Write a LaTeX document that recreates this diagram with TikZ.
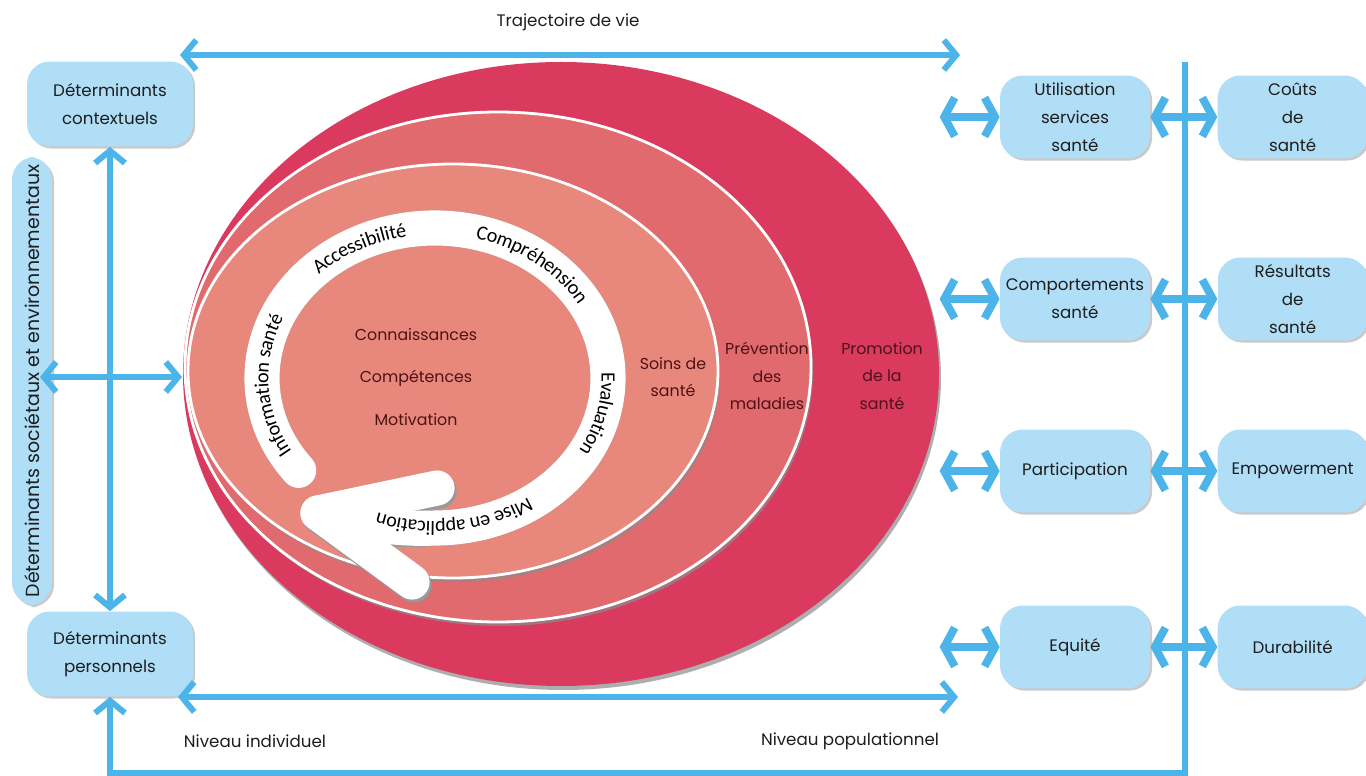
\documentclass[tikz,border=0pt]{standalone}
\usepackage{fontspec}
\setmainfont{Poppins}
\newfontfamily\ringfont{Carlito}
\usepackage{tikz}
\usetikzlibrary{arrows.meta, positioning, shadows, decorations.text}

\definecolor{arrowblue}{RGB}{77,180,234}
\definecolor{boxblue}{RGB}{176,222,247}
\definecolor{promored}{RGB}{218,58,94}
\definecolor{prevred}{RGB}{224,106,110}
\definecolor{soinsred}{RGB}{232,135,123}
\definecolor{darkred}{RGB}{78,18,22}
\definecolor{textgray}{RGB}{30,30,30}
\newcommand\ringsize{\ringfont\fontsize{11.5}{13}\selectfont\color{black}}

\begin{document}
\begin{tikzpicture}[x=0.02cm, y=-0.02cm, >={Straight Barb[length=7pt,width=17pt]},
  font=\fontsize{9.5}{16}\selectfont, text=textgray,
  flow/.style={draw=arrowblue, line width=3.4pt},
  link/.style={draw=arrowblue, line width=4.5pt, >={Straight Barb[length=6pt,width=22pt]}},
  detbox/.style={fill=boxblue, rounded corners=13pt, align=center, minimum width=3cm,
    minimum height=1.66cm, drop shadow={shadow xshift=1.2pt, shadow yshift=-1.2pt, fill=black!35, opacity=.6}},
  ringline/.style={line width=20pt, line cap=round, line join=round},
  ringtext/.style={decorate, decoration={text along path, text align=center, raise=-3.6pt,
    text={|\ringsize|#1}}},
  redtext/.style={text=darkred, align=center, font=\fontsize{9}{15.5}\selectfont},
  layer/.style={draw=white, line width=1.6pt},
  layershadow/.style={fill=black!45, opacity=.7}]
\useasboundingbox (0,0) rectangle (1366,776);

\fill[layershadow] (563,378) ellipse[x radius=378, y radius=312];
\fill[promored] (561,374) ellipse[x radius=378, y radius=312];
\fill[layershadow] (500,371) ellipse[x radius=313, y radius=255];
\filldraw[fill=prevred, layer] (498,367) ellipse[x radius=313, y radius=255];
\fill[layershadow] (455,375) ellipse[x radius=265, y radius=207];
\filldraw[fill=soinsred, layer] (453,371) ellipse[x radius=265, y radius=207];

\coordinate (rc) at (435,378);
\draw[ringline, black!40, shift={(2,3)}] (rc) ++(142:173 and 150)
  arc[start angle=142, end angle=450, x radius=173, y radius=150]
  .. controls (395,530) and (350,522) .. (318,513);
\draw[ringline, black!40, shift={(2,3)}] (437,488) -- (318,513) -- (412,582);
\draw[ringline, white] (rc) ++(142:173 and 150)
  arc[start angle=142, end angle=450, x radius=173, y radius=150]
  .. controls (395,530) and (350,522) .. (318,513);
\draw[ringline, white] (437,488) -- (318,513) -- (412,582);

\path[ringtext={Information santé}] (rc) ++(134:173 and 150) arc[start angle=134, end angle=220, x radius=173, y radius=150];
\path[ringtext={Accessibilité}] (rc) ++(220:173 and 150) arc[start angle=220, end angle=266, x radius=173, y radius=150];
\path[ringtext={Compréhension}] (rc) ++(278:173 and 150) arc[start angle=278, end angle=336, x radius=173, y radius=150];
\path[ringtext={Evaluation}] (rc) ++(350:173 and 150) arc[start angle=350, end angle=398, x radius=173, y radius=150];
\path[ringtext={Mise en application}] (rc) ++(408:173 and 150) arc[start angle=408, end angle=478, x radius=173, y radius=150];

\node[redtext, font=\fontsize{9}{24}\selectfont] (core) at (416,377) {Connaissances\\Compétences\\Motivation};
\node[redtext] (soins) at (673,377) {Soins de\\santé};
\node[redtext] (prev) at (767,376) {Prévention\\des\\maladies};
\node[redtext] (promo) at (882,376) {Promotion\\de la\\santé};

\node[detbox, minimum width=3.32cm, minimum height=1.7cm] (ctx) at (110,104) {Déterminants\\contextuels};
\node[detbox, minimum width=3.32cm, minimum height=1.7cm] (pers) at (110,654) {Déterminants\\personnels};
\node[detbox, rotate=90, minimum width=8.96cm, minimum height=0.8cm, font=\fontsize{10.8}{12}\selectfont] (soc) at (32,381) {Déterminants sociétaux et environnementaux};

\node[detbox] (util) at (1075,117) {Utilisation\\services\\santé};
\node[detbox] (comp) at (1075,299) {Comportements\\santé};
\node[detbox] (part) at (1075,471) {Participation};
\node[detbox] (equi) at (1075,647) {Equité};
\node[detbox, right=1.34cm of util] (couts) {Coûts\\de\\santé};
\node[detbox, right=1.34cm of comp] (resul) {Résultats\\de\\santé};
\node[detbox, right=1.34cm of part] (empow) {Empowerment};
\node[detbox, right=1.34cm of equi] (durab) {Durabilité};

\node (traj) at (568,22) {Trajectoire de vie};
\node (indiv) at (255,741) {Niveau individuel};
\node (popu) at (850,741) {Niveau populationnel};

\coordinate (trajL) at (180,55);
\coordinate (trajR) at (960,55);
\coordinate (popL) at (178,697);
\coordinate (popR) at (958,697);
\coordinate (socL) at (40,377);
\coordinate (socR) at (182,377);
\coordinate (vtop) at (1185,62);
\coordinate (vbot) at (1185,773);

\draw[flow, <->] (trajL) -- (trajR);
\draw[flow, <->] (popL) -- (popR);
\draw[flow, <->] (ctx) -- (pers);
\draw[flow, <->] (socL) -- (socR);
\draw[flow, ->] (vtop) -- (vbot) -| (pers.south);

\foreach \b/\c in {util/couts, comp/resul, part/empow, equi/durab} {
  \draw[link, <->] ([xshift=-1.2cm]\b.west) -- (\b);
  \draw[link, <->] (\b) -- (\c);
}
\end{tikzpicture}
\end{document}
